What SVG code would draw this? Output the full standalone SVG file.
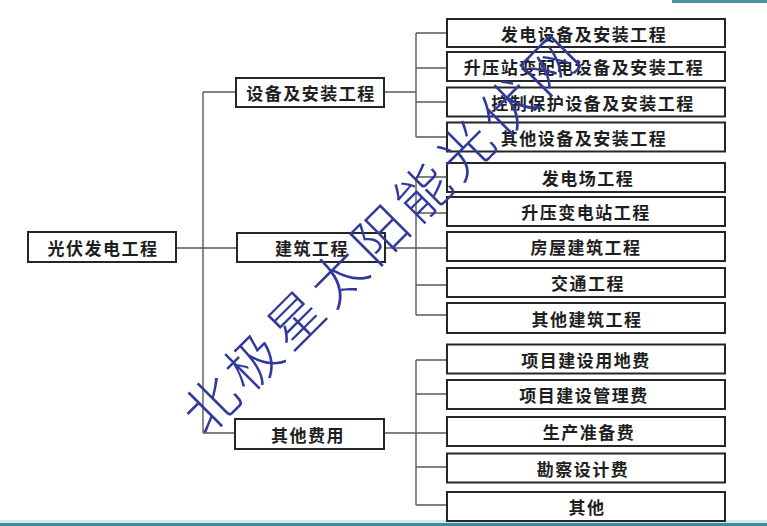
<svg xmlns="http://www.w3.org/2000/svg" width="767" height="526" viewBox="0 0 767 526">
<style>
.box{fill:#fff;stroke:#262626;stroke-width:2}
.lbl{font-family:"Noto Sans CJK SC","Noto Sans CJK TC",sans-serif;font-size:17px;font-weight:bold;fill:#1e1e1e;text-anchor:middle;dominant-baseline:central;letter-spacing:1.5px}
.con{fill:none;stroke:#5a5a5a;stroke-width:1.4}
.wm{font-family:"Noto Sans CJK SC",sans-serif;font-size:54px;font-weight:200;fill:#2f3a9c;text-anchor:middle;dominant-baseline:central;letter-spacing:6px}
</style>
<rect x="0" y="0" width="767" height="526" fill="#fff"/>
<rect x="672" y="0" width="95" height="3" fill="#4f93a6"/>
<rect x="0" y="520" width="767" height="3" fill="#d7eaf1"/>
<rect x="0" y="523" width="767" height="3" fill="#3a8b9e"/>

<g id="connectors" class="con">
<path d="M176,248H237M203,92V433M203,92H236M203,433H235"/>
<path d="M384,92H416M416,33V137M416,33H447M416,68H447M416,102H447M416,137H447"/>
<path d="M385,248H447M416,177V315M416,177H447M416,213H447M416,285H447M416,315H447"/>
<path d="M384,433H447M416,360V505M416,360H447M416,394H447M416,467H447M416,505H447"/>
</g>

<g id="n-root"><rect class="box" x="28" y="232" width="148" height="30"/><text class="lbl" x="103" y="247">光伏发电工程</text></g>
<g id="n-equip"><rect class="box" x="236" y="78" width="148" height="29"/><text class="lbl" x="311" y="92.5">设备及安装工程</text></g>
<g id="n-build"><rect class="box" x="237" y="233" width="148" height="29"/><text class="lbl" x="312" y="247.5">建筑工程</text></g>
<g id="n-other"><rect class="box" x="235" y="419" width="149" height="30"/><text class="lbl" x="308" y="434">其他费用</text></g>

<g id="n-b1"><rect class="box" x="447" y="19" width="278" height="28"/><text class="lbl" x="584" y="33">发电设备及安装工程</text></g>
<g id="n-b2"><rect class="box" x="447" y="52" width="278" height="29"/><text class="lbl" x="584" y="66.5">升压站变配电设备及安装工程</text></g>
<g id="n-b3"><rect class="box" x="447" y="87.5" width="278" height="29"/><text class="lbl" x="593" y="102">控制保护设备及安装工程</text></g>
<g id="n-b4"><rect class="box" x="447" y="122.5" width="278" height="29"/><text class="lbl" x="584" y="137">其他设备及安装工程</text></g>
<g id="n-b5"><rect class="box" x="447" y="163" width="278" height="29"/><text class="lbl" x="588" y="177.5">发电场工程</text></g>
<g id="n-b6"><rect class="box" x="447" y="197" width="278" height="29"/><text class="lbl" x="586" y="211.5">升压变电站工程</text></g>
<g id="n-b7"><rect class="box" x="447" y="232" width="278" height="29"/><text class="lbl" x="586" y="246.5">房屋建筑工程</text></g>
<g id="n-b8"><rect class="box" x="447" y="268" width="278" height="29"/><text class="lbl" x="588" y="282.5">交通工程</text></g>
<g id="n-b9"><rect class="box" x="447" y="303" width="278" height="30"/><text class="lbl" x="587" y="318">其他建筑工程</text></g>
<g id="n-b10"><rect class="box" x="447" y="344.5" width="278" height="29"/><text class="lbl" x="586" y="359">项目建设用地费</text></g>
<g id="n-b11"><rect class="box" x="447" y="380" width="278" height="29"/><text class="lbl" x="584" y="394.5">项目建设管理费</text></g>
<g id="n-b12"><rect class="box" x="447" y="417" width="278" height="29"/><text class="lbl" x="589" y="431.5">生产准备费</text></g>
<g id="n-b13"><rect class="box" x="447" y="453.5" width="278" height="29"/><text class="lbl" x="583" y="468">勘察设计费</text></g>
<g id="n-b14"><rect class="box" x="447" y="492" width="278" height="29"/><text class="lbl" x="587" y="506.5">其他</text></g>

<text class="wm" transform="translate(380,230) rotate(-45)">北极星太阳能光伏网</text>
</svg>
